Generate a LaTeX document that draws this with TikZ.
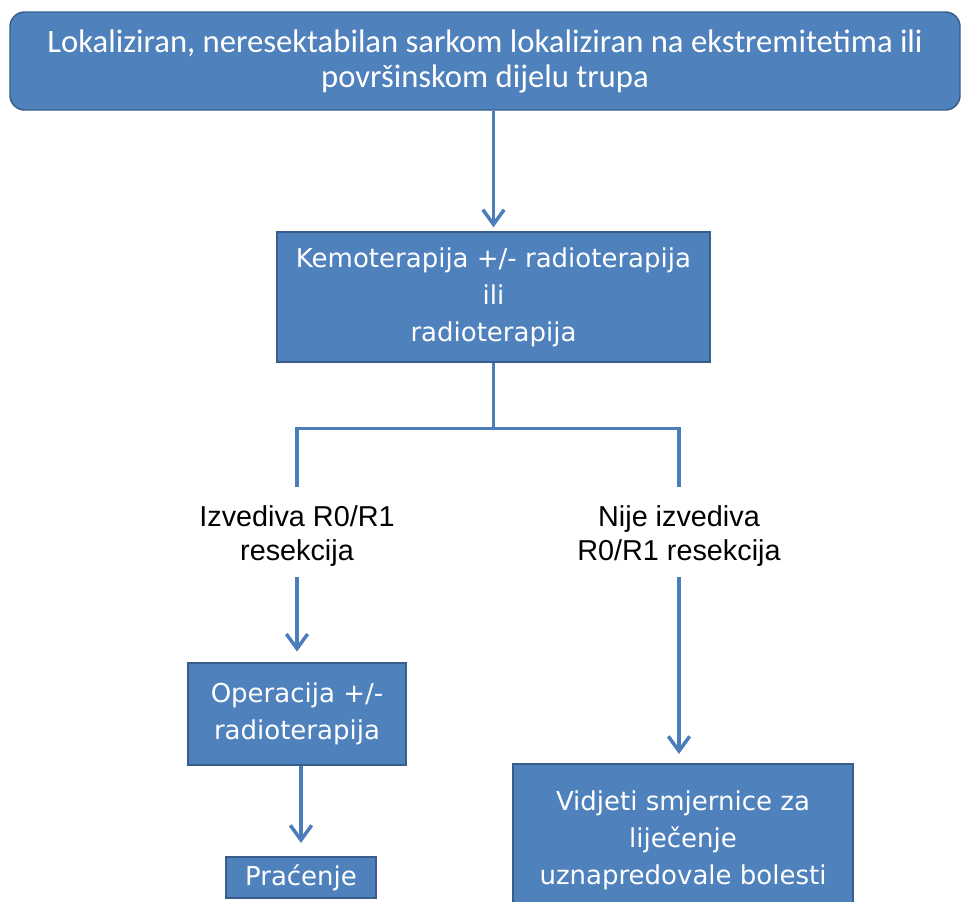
\documentclass[tikz,border=0pt]{standalone}
\usepackage{fontspec}
\usetikzlibrary{arrows.meta}
\newfontfamily\topfont{Carlito}
\newfontfamily\boxfont{DejaVu Sans}
\newfontfamily\choicefont{Liberation Sans}
\definecolor{boxblue}{HTML}{4F81BD}
\definecolor{boxedge}{HTML}{385D8A}
\definecolor{lineblue}{HTML}{4A7EBB}
\tikzset{
  box/.style={rectangle, draw=boxedge, line width=1.1pt, fill=boxblue, text=white, align=center,
    font=\boxfont\fontsize{19.5pt}{27.75pt}\selectfont, inner sep=0pt},
  choice/.style={align=center, font=\choicefont\fontsize{21.6pt}{25.5pt}\selectfont, inner sep=0pt},
  flow/.style={draw=lineblue, line width=2.6pt, -{Straight Barb[length=11pt,width=16pt,line width=2.6pt]}},
  branch/.style={draw=lineblue, line width=2.6pt}
}
\begin{document}
\begin{tikzpicture}[x=0.75pt, y=-0.75pt]
            \clip (0,0) rectangle (964,901);
            \begin{scope}[every node/.style={box}]

                \node[rounded corners=11pt, minimum width=712.5pt, minimum height=73.5pt,
                  font=\topfont\fontsize{24.5pt}{26.25pt}\selectfont] (start) at (485,61)
                  {Lokaliziran, neresektabilan sarkom lokaliziran na ekstremitetima ili\\površinskom dijelu trupa};
                \node[minimum width=324.75pt, minimum height=97.5pt] (kemo) at (493.5,297)
                  {Kemoterapija +/- radioterapija\\ili\\radioterapija};
                \node[minimum width=163.5pt, minimum height=76.5pt] (operacija) at (297,714)
                  {Operacija +/-\\radioterapija};
                \node[minimum width=112.5pt, minimum height=30.75pt] (pracenje) at (301,877.5)
                  {Praćenje};
                \node[minimum width=255pt, minimum height=114pt] (vidjeti) at (683,840)
                  {Vidjeti smjernice za\\liječenje\\uznapredovale bolesti};

            \end{scope}
            \node[choice] (izvediva) at (297,536) {Izvediva R0/R1\\resekcija};
            \node[choice] (nije) at (679,536) {Nije izvediva\\R0/R1 resekcija};

            \path (kemo.south) ++(0,66) coordinate (fork);

            \draw[flow, shorten >=3pt] (kemo.north |- start.south) -- (kemo.north);
            \draw[branch] (kemo.south) -- (fork);
            \draw[branch] ([yshift=14pt]izvediva.north) |- (fork) -| ([yshift=14pt]nije.north);
            \draw[flow, shorten >=8pt] ([yshift=-8pt]izvediva.south) -- (operacija.north);
            \draw[flow, shorten >=7pt] ([yshift=-8pt]nije.south) -- (nije.south |- vidjeti.north);
            \draw[flow, shorten >=10pt] (operacija.south -| pracenje) -- (pracenje.north);
        \end{tikzpicture}
\end{document}
